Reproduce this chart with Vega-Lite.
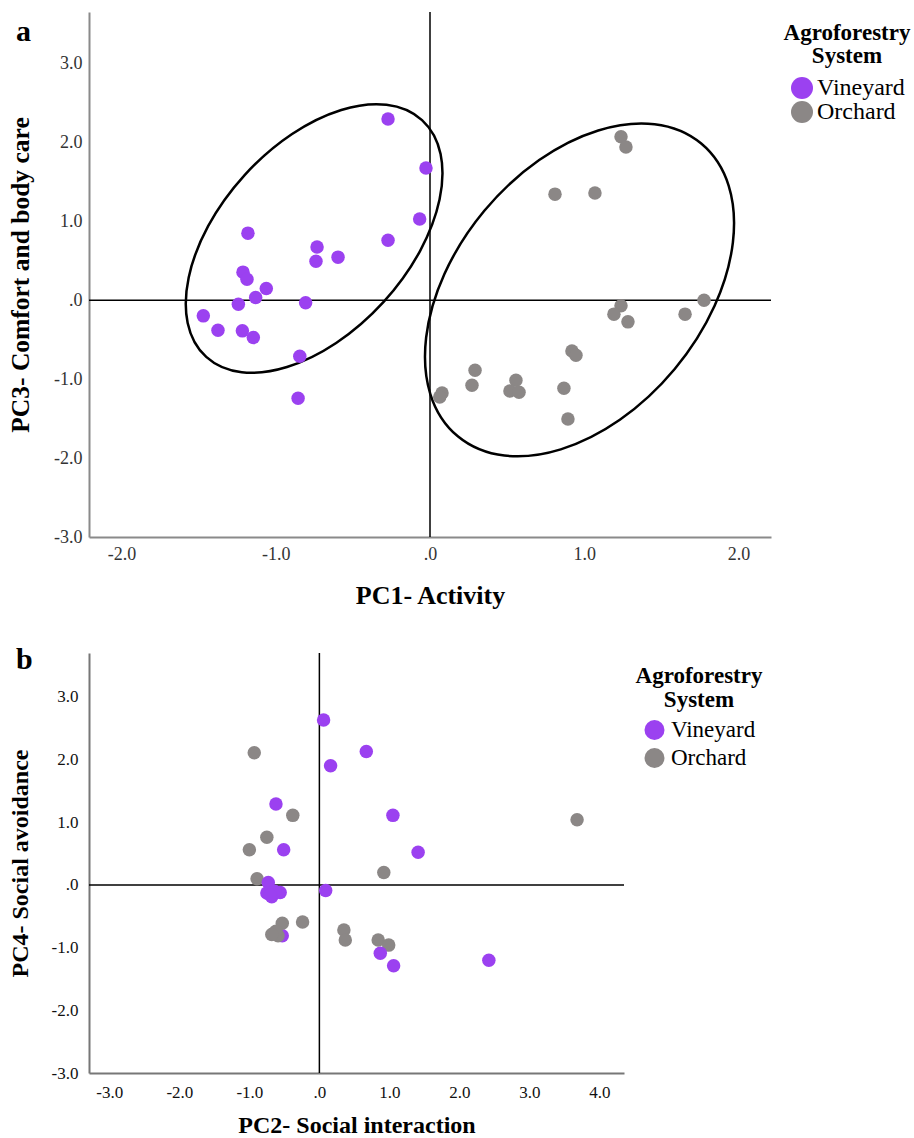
{
  "$schema": "https://vega.github.io/schema/vega-lite/v6.json",
  "background": "white",
  "padding": {"left": 8, "top": 11, "right": 5, "bottom": 5},
  "spacing": 116,
  "bounds": "flush",
  "resolve": {"scale": {"color": "independent"}, "legend": {"color": "independent"}},
  "config": {
    "font": "Liberation Serif",
    "view": {"stroke": null},
    "axis": {
      "ticks": false, "grid": false, "labelFlush": false, "labelOverlap": false,
      "domainColor": "#8a8a8a", "domainWidth": 2,
      "labelFont": "Liberation Serif", "titleFont": "Liberation Serif",
      "titleFontWeight": "bold", "titleColor": "black"
    },
    "legend": {
      "padding": 0, "symbolType": "circle", "symbolOpacity": 1, "symbolStrokeWidth": 0,
      "labelFont": "Liberation Serif", "titleFont": "Liberation Serif",
      "titleFontWeight": "bold", "titleColor": "black", "labelColor": "black",
      "titleAlign": "center", "titleAnchor": "middle"
    }
  },
  "datasets": {
    "a_points": [
      {"x": -0.272, "y": 2.294, "system": "Vineyard"},
      {"x": -0.026, "y": 1.673, "system": "Vineyard"},
      {"x": -0.067, "y": 1.027, "system": "Vineyard"},
      {"x": -0.272, "y": 0.760, "system": "Vineyard"},
      {"x": -1.180, "y": 0.849, "system": "Vineyard"},
      {"x": -0.732, "y": 0.672, "system": "Vineyard"},
      {"x": -0.739, "y": 0.494, "system": "Vineyard"},
      {"x": -0.596, "y": 0.545, "system": "Vineyard"},
      {"x": -1.212, "y": 0.355, "system": "Vineyard"},
      {"x": -1.186, "y": 0.266, "system": "Vineyard"},
      {"x": -1.061, "y": 0.148, "system": "Vineyard"},
      {"x": -1.130, "y": 0.034, "system": "Vineyard"},
      {"x": -1.242, "y": -0.051, "system": "Vineyard"},
      {"x": -0.806, "y": -0.034, "system": "Vineyard"},
      {"x": -1.469, "y": -0.199, "system": "Vineyard"},
      {"x": -1.374, "y": -0.380, "system": "Vineyard"},
      {"x": -1.216, "y": -0.389, "system": "Vineyard"},
      {"x": -1.145, "y": -0.473, "system": "Vineyard"},
      {"x": -0.844, "y": -0.710, "system": "Vineyard"},
      {"x": -0.855, "y": -1.242, "system": "Vineyard"},
      {"x": 1.238, "y": 2.070, "system": "Orchard"},
      {"x": 1.270, "y": 1.939, "system": "Orchard"},
      {"x": 0.810, "y": 1.343, "system": "Orchard"},
      {"x": 1.069, "y": 1.356, "system": "Orchard"},
      {"x": 1.776, "y": 0.000, "system": "Orchard"},
      {"x": 1.238, "y": -0.072, "system": "Orchard"},
      {"x": 1.192, "y": -0.177, "system": "Orchard"},
      {"x": 1.283, "y": -0.275, "system": "Orchard"},
      {"x": 1.653, "y": -0.177, "system": "Orchard"},
      {"x": 0.920, "y": -0.643, "system": "Orchard"},
      {"x": 0.946, "y": -0.697, "system": "Orchard"},
      {"x": 0.292, "y": -0.887, "system": "Orchard"},
      {"x": 0.272, "y": -1.077, "system": "Orchard"},
      {"x": 0.557, "y": -1.014, "system": "Orchard"},
      {"x": 0.518, "y": -1.150, "system": "Orchard"},
      {"x": 0.577, "y": -1.166, "system": "Orchard"},
      {"x": 0.868, "y": -1.115, "system": "Orchard"},
      {"x": 0.894, "y": -1.504, "system": "Orchard"},
      {"x": 0.078, "y": -1.175, "system": "Orchard"},
      {"x": 0.063, "y": -1.226, "system": "Orchard"}
    ],
    "b_points": [
      {"x": -0.93, "y": 2.11, "system": "Orchard"},
      {"x": -0.38, "y": 1.11, "system": "Orchard"},
      {"x": -0.75, "y": 0.76, "system": "Orchard"},
      {"x": -1.00, "y": 0.56, "system": "Orchard"},
      {"x": 3.68, "y": 1.04, "system": "Orchard"},
      {"x": 0.92, "y": 0.20, "system": "Orchard"},
      {"x": -0.89, "y": 0.10, "system": "Orchard"},
      {"x": 0.06, "y": 2.63, "system": "Vineyard"},
      {"x": 0.67, "y": 2.13, "system": "Vineyard"},
      {"x": 0.16, "y": 1.90, "system": "Vineyard"},
      {"x": -0.62, "y": 1.29, "system": "Vineyard"},
      {"x": 1.05, "y": 1.11, "system": "Vineyard"},
      {"x": -0.51, "y": 0.56, "system": "Vineyard"},
      {"x": 1.41, "y": 0.52, "system": "Vineyard"},
      {"x": -0.73, "y": 0.04, "system": "Vineyard"},
      {"x": -0.75, "y": -0.13, "system": "Vineyard"},
      {"x": -0.68, "y": -0.19, "system": "Vineyard"},
      {"x": -0.56, "y": -0.12, "system": "Vineyard"},
      {"x": -0.64, "y": -0.10, "system": "Vineyard"},
      {"x": -0.70, "y": -0.16, "system": "Vineyard"},
      {"x": 0.09, "y": -0.09, "system": "Vineyard"},
      {"x": -0.53, "y": -0.81, "system": "Vineyard"},
      {"x": -0.53, "y": -0.61, "system": "Orchard"},
      {"x": -0.24, "y": -0.59, "system": "Orchard"},
      {"x": -0.65, "y": -0.77, "system": "Orchard"},
      {"x": -0.59, "y": -0.81, "system": "Orchard"},
      {"x": -0.62, "y": -0.74, "system": "Orchard"},
      {"x": -0.68, "y": -0.79, "system": "Orchard"},
      {"x": 0.35, "y": -0.72, "system": "Orchard"},
      {"x": 0.37, "y": -0.88, "system": "Orchard"},
      {"x": 0.84, "y": -0.88, "system": "Orchard"},
      {"x": 0.99, "y": -0.96, "system": "Orchard"},
      {"x": 0.87, "y": -1.09, "system": "Vineyard"},
      {"x": 1.06, "y": -1.29, "system": "Vineyard"},
      {"x": 2.42, "y": -1.20, "system": "Vineyard"}
    ]
  },
  "vconcat": [
    {
      "width": 682,
      "height": 525,
      "title": {"text": "a", "anchor": "start", "frame": "group", "orient": "top", "offset": 0, "dx": -73, "dy": 60, "baseline": "alphabetic", "fontSize": 30, "fontWeight": "bold", "font": "Liberation Serif", "color": "black"},
      "layer": [
        {
          "data": {"values": [{}]},
          "mark": {"type": "rule", "color": "black", "strokeWidth": 1.5},
          "encoding": {"x": {"datum": 0, "type": "quantitative", "scale": {"domain": [-2.21, 2.21], "nice": false, "zero": false}}}
        },
        {
          "data": {"values": [{}]},
          "mark": {"type": "rule", "color": "black", "strokeWidth": 1.5},
          "encoding": {"y": {"datum": 0, "type": "quantitative", "scale": {"domain": [-3, 3.65], "nice": false, "zero": false}}}
        },
        {
          "data": {"values": [{"x": -0.751, "y": 0.781}]},
          "mark": {"type": "point", "clip": true, "shape": "M 107.9 -118.4 A 160.25 94.1 -47.67 0 1 69.5 63.4 A 160.25 94.1 -47.67 0 1 -107.9 118.4 A 160.25 94.1 -47.67 0 1 -69.5 -63.4 A 160.25 94.1 -47.67 0 1 107.9 -118.4 Z", "size": 4, "filled": false, "stroke": "black", "strokeWidth": 2.5, "opacity": 1},
          "encoding": {
            "x": {"field": "x", "type": "quantitative", "title": "PC1- Activity"},
            "y": {"field": "y", "type": "quantitative", "title": "PC3- Comfort and body care"}
          }
        },
        {
          "data": {"values": [{"x": 0.969, "y": 0.13}]},
          "mark": {"type": "point", "clip": true, "shape": "M 121.7 -146.4 A 190.4 123.75 -50.25 0 1 95.2 79.1 A 190.4 123.75 -50.25 0 1 -121.7 146.4 A 190.4 123.75 -50.25 0 1 -95.2 -79.1 A 190.4 123.75 -50.25 0 1 121.7 -146.4 Z", "size": 4, "filled": false, "stroke": "black", "strokeWidth": 2.5, "opacity": 1},
          "encoding": {
            "x": {"field": "x", "type": "quantitative", "title": "PC1- Activity"},
            "y": {"field": "y", "type": "quantitative", "title": "PC3- Comfort and body care"}
          }
        },
        {
          "data": {"name": "a_points"},
          "mark": {"type": "point", "shape": "circle", "filled": true, "size": 182, "opacity": 1, "strokeWidth": 0},
          "encoding": {
            "x": {"field": "x", "type": "quantitative", "title": "PC1- Activity",
              "scale": {"domain": [-2.21, 2.21], "nice": false, "zero": false},
              "axis": {"values": [-2, -1, 0, 1, 2], "labelExpr": "(datum.value < 0 ? '-' : '') + (datum.value == 0 ? '.0' : format(abs(datum.value), '.1f'))", "labelFontSize": 18, "labelColor": "#333333", "labelPadding": 8, "titleFontSize": 26, "titlePadding": 19}},
            "y": {"field": "y", "type": "quantitative", "title": "PC3- Comfort and body care",
              "scale": {"domain": [-3, 3.65], "nice": false, "zero": false},
              "axis": {"values": [-3, -2, -1, 0, 1, 2, 3], "labelExpr": "(datum.value < 0 ? '-' : '') + (datum.value == 0 ? '.0' : format(abs(datum.value), '.1f'))", "labelFontSize": 18, "labelColor": "#333333", "labelPadding": 7, "titleFontSize": 25.5, "titlePadding": 20}},
            "color": {"field": "system", "type": "nominal",
              "scale": {"domain": ["Vineyard", "Orchard"], "range": ["#9b41f0", "#8b8786"]},
              "legend": {"title": ["Agroforestry", "System"], "orient": "none", "legendX": 695, "legendY": 10, "titleFontSize": 23, "titleLineHeight": 23, "titlePadding": 8, "labelFontSize": 24, "labelOffset": 3, "symbolSize": 484, "rowPadding": 0}}
          }
        }
      ]
    },
    {
      "width": 535,
      "height": 420,
      "title": {"text": "b", "anchor": "start", "frame": "group", "orient": "top", "offset": 0, "dx": -73, "dy": 47, "baseline": "alphabetic", "fontSize": 30, "fontWeight": "bold", "font": "Liberation Serif", "color": "black"},
      "layer": [
        {
          "data": {"values": [{}]},
          "mark": {"type": "rule", "color": "black", "strokeWidth": 1.5},
          "encoding": {"x": {"datum": 0, "type": "quantitative", "scale": {"domain": [-3.29, 4.35], "nice": false, "zero": false}}}
        },
        {
          "data": {"values": [{}]},
          "mark": {"type": "rule", "color": "black", "strokeWidth": 1.5},
          "encoding": {"y": {"datum": 0, "type": "quantitative", "scale": {"domain": [-3, 3.7], "nice": false, "zero": false}}}
        },
        {
          "data": {"name": "b_points"},
          "mark": {"type": "point", "shape": "circle", "filled": true, "size": 182, "opacity": 1, "strokeWidth": 0},
          "encoding": {
            "x": {"field": "x", "type": "quantitative", "title": "PC2- Social interaction",
              "scale": {"domain": [-3.29, 4.35], "nice": false, "zero": false},
              "axis": {"values": [-3, -2, -1, 0, 1, 2, 3, 4], "labelExpr": "(datum.value < 0 ? '-' : '') + (datum.value == 0 ? '.0' : format(abs(datum.value), '.1f'))", "labelFontSize": 17, "labelColor": "#111111", "labelPadding": 11, "titleFontSize": 24, "titlePadding": 13, "domainColor": "#777777"}},
            "y": {"field": "y", "type": "quantitative", "title": "PC4- Social avoidance",
              "scale": {"domain": [-3, 3.7], "nice": false, "zero": false},
              "axis": {"values": [-3, -2, -1, 0, 1, 2, 3], "labelExpr": "(datum.value < 0 ? '-' : '') + (datum.value == 0 ? '.0' : format(abs(datum.value), '.1f'))", "labelFontSize": 17, "labelColor": "#111111", "labelPadding": 11, "titleFontSize": 24, "titlePadding": 19, "domainColor": "#777777"}},
            "color": {"field": "system", "type": "nominal",
              "scale": {"domain": ["Vineyard", "Orchard"], "range": ["#9b41f0", "#8b8786"]},
              "legend": {"title": ["Agroforestry", "System"], "orient": "none", "legendX": 547, "legendY": 12, "titleFontSize": 23, "titleLineHeight": 23.5, "titlePadding": 7, "labelFontSize": 23, "labelOffset": 5, "symbolSize": 400, "rowPadding": 4}}
          }
        }
      ]
    }
  ]
}
